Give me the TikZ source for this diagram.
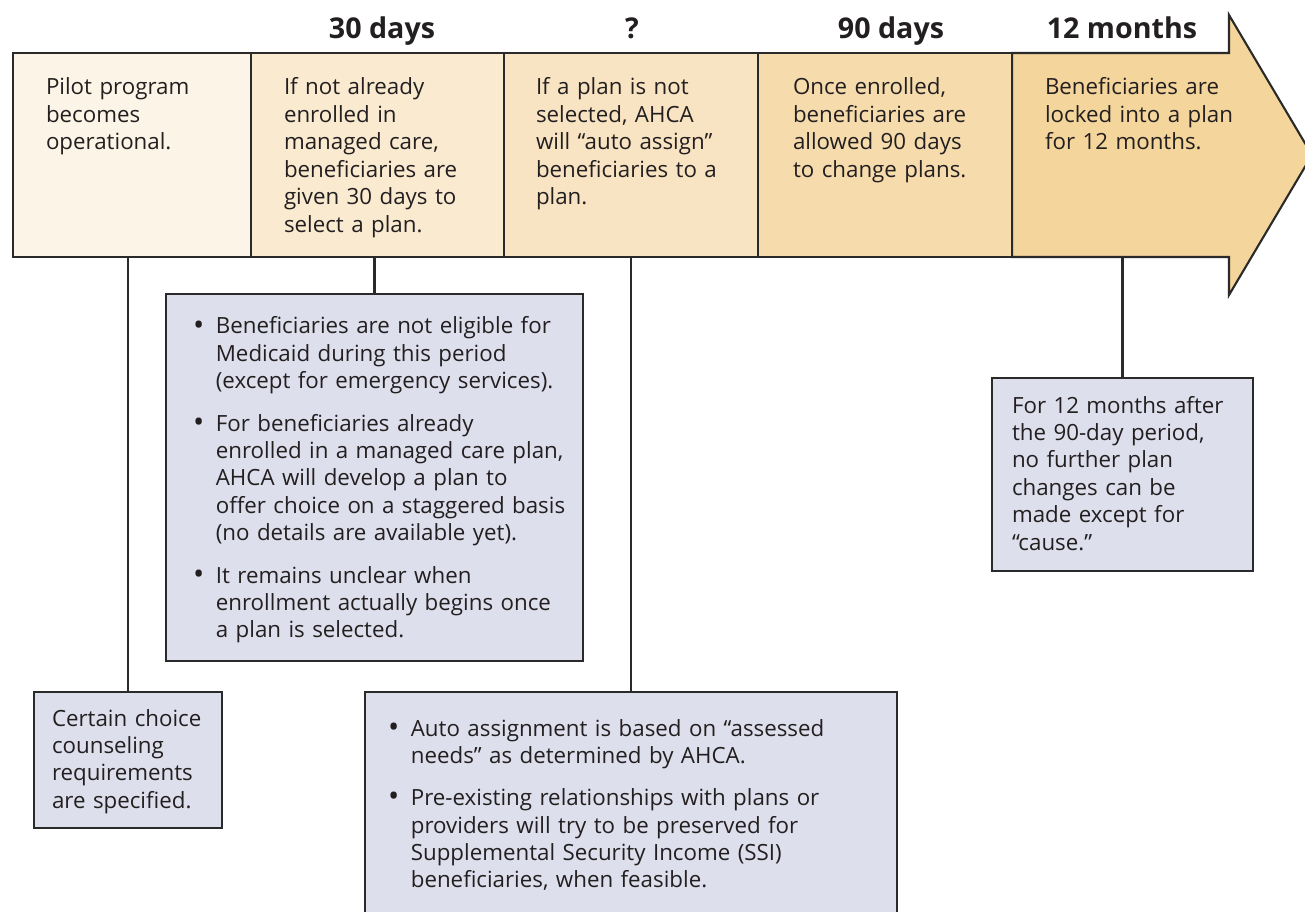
\documentclass[tikz,border=0pt]{standalone}
\usepackage{fontspec}
\setmainfont{Open Sans}
\usepackage{tikz}
\usetikzlibrary{calc}

\definecolor{ink}{HTML}{231F20}
\definecolor{edge}{HTML}{2B2A2A}
\definecolor{stageA}{HTML}{FCF4E6}
\definecolor{stageB}{HTML}{F9EAD0}
\definecolor{stageC}{HTML}{F8E4C2}
\definecolor{stageD}{HTML}{F6DCAD}
\definecolor{stageE}{HTML}{F4D59B}
\definecolor{boxblue}{HTML}{DEDFEC}

% bullet item with hanging indent
\newcommand{\bpt}[1]{\hangindent=13pt\hangafter=1\noindent\makebox[13pt][l]{\raisebox{-0.6pt}{\fontsize{17pt}{17pt}\selectfont\textbullet}}#1\par}

\begin{document}
\begin{tikzpicture}[x=0.02cm, y=-0.02cm,
    every node/.style={inner sep=0pt, outer sep=0pt},
    stage/.style={draw=edge, line width=1.2pt, minimum height=4.08cm, anchor=north west},
    infobox/.style={draw=edge, fill=boxblue, line width=1.2pt, anchor=north west},
    bodytext/.style={font=\fontsize{12.7pt}{15.6pt}\selectfont, text=ink, text width=#1, align=left, anchor=base west},
    headtext/.style={font=\fontsize{16.3pt}{18pt}\selectfont\bfseries, text=ink, anchor=base},
    link/.style={draw=edge, line width=1.2pt}]
    \useasboundingbox (0,0) rectangle (1305,912);

    % The arrow (last stage)
    \coordinate (bandtop) at (1012,53);
    \coordinate (bandbot) at (1012,257);
    \draw[fill=stageE, draw=edge, line width=1.2pt, line join=miter]
        (bandtop) -- (1229,53) -- (1229,15) -- (1312,155) -- (1229,295) -- (1229,257) -- (bandbot) -- cycle;

    % The stages
    \node[stage, fill=stageA, minimum width=4.76cm] (sec1) at (13,53) {};
    \node[stage, fill=stageB, minimum width=5.06cm] (sec2) at (251,53) {};
    \node[stage, fill=stageC, minimum width=5.08cm] (sec3) at (504,53) {};
    \node[stage, fill=stageD, minimum width=5.08cm] (sec4) at (758,53) {};

    % Time marks
    \node[headtext] (mark2) at (382,39) {30 days};
    \node[headtext] (mark3) at (632,39) {?};
    \node[headtext] (mark4) at (891,39) {90 days};
    \node[headtext] (mark5) at (1122,39) {12 months};

    % Stage texts
    \node[bodytext=4cm] (txt1) at (46,95) {Pilot program\\becomes\\operational.};
    \node[bodytext=4cm] (txt2) at (284,95) {If not already\\enrolled in\\managed care,\\beneficiaries are\\given 30 days to\\select a plan.};
    \node[bodytext=4cm] (txt3) at (536,95) {If a plan is not\\selected, AHCA\\will “auto assign”\\beneficiaries to a\\plan.};
    \node[bodytext=4cm] (txt4) at (793,95) {Once enrolled,\\beneficiaries are\\allowed 90 days\\to change plans.};
    \node[bodytext=4cm] (txt5) at (1045,95) {Beneficiaries are\\locked into a plan\\for 12 months.};

    % The note boxes
    \node[infobox, minimum width=3.76cm, minimum height=2.72cm] (box1) at (34,692) {};
    \node[infobox, minimum width=8.34cm, minimum height=7.34cm] (box2) at (166,294) {};
    \node[infobox, minimum width=10.64cm, minimum height=4.9cm] (box3) at (365,692) {};
    \node[infobox, minimum width=5.22cm, minimum height=3.86cm] (box5) at (992,378) {};

    % Links from stages to notes
    \draw[link] (box1.north) -- (box1.north |- sec1.south);
    \draw[link] (box2.north) -- (box2.north |- sec2.south);
    \draw[link] (box3.north) -- (box3.north |- sec3.south);
    \draw[link] (box5.north) -- (box5.north |- bandbot);

    % Note texts
    \node[bodytext=3.5cm] (note1) at (52,726) {Certain choice\\counseling\\requirements\\are specified.};
    \node[bodytext=8cm] (note2) at (193,334) {\setlength{\parskip}{8.5pt}%
        \bpt{Beneficiaries are not eligible for\newline Medicaid during this period\newline (except for emergency services).}%
        \bpt{For beneficiaries already\newline enrolled in a managed care plan,\newline AHCA will develop a plan to\newline offer choice on a staggered basis\newline (no details are available yet).}%
        \bpt{It remains unclear when\newline enrollment actually begins once\newline a plan is selected.}};
    \node[bodytext=10cm] (note3) at (388,736) {\setlength{\parskip}{8.5pt}%
        \bpt{Auto assignment is based on “assessed\newline needs” as determined by AHCA.}%
        \bpt{Pre-existing relationships with plans or\newline providers will try to be preserved for\newline Supplemental Security Income (SSI)\newline beneficiaries, when feasible.}};
    \node[bodytext=5cm] (note5) at (1012,413) {For 12 months after\\the 90-day period,\\no further plan\\changes can be\\made except for\\“cause.”};
\end{tikzpicture}
\end{document}
